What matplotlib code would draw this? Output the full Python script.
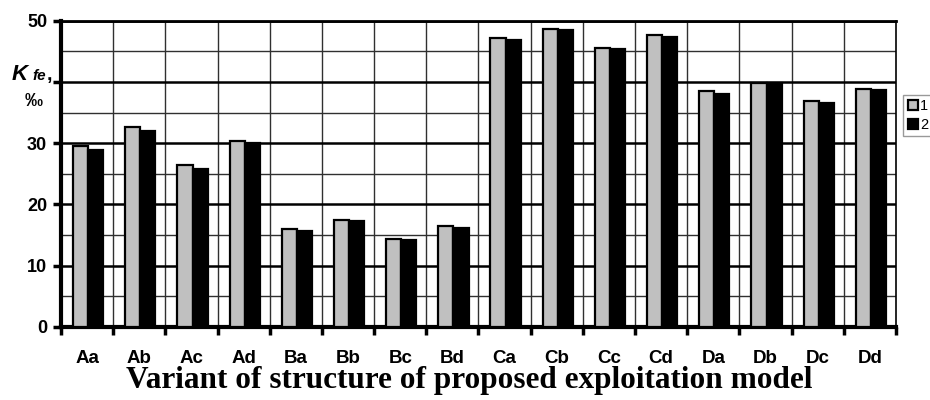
import numpy as np
import matplotlib.pyplot as plt
from matplotlib.ticker import MultipleLocator

# data
variants = ['Aa', 'Ab', 'Ac', 'Ad', 'Ba', 'Bb', 'Bc', 'Bd',
            'Ca', 'Cb', 'Cc', 'Cd', 'Da', 'Db', 'Dc', 'Dd']
series_1 = [29.5, 32.6, 26.5, 30.4, 15.9, 17.5, 14.4, 16.4,
            47.2, 48.7, 45.6, 47.6, 38.5, 39.9, 36.9, 38.9]
series_2 = [28.9, 32.0, 25.8, 30.0, 15.7, 17.3, 14.2, 16.1,
            46.9, 48.5, 45.4, 47.3, 38.1, 39.8, 36.6, 38.7]
series_names = ['1', '2']
y_ticks = [0, 10, 20, 30, 40, 50]
y_tick_labels = ['0', '10', '20', '30', '', '50']

plt.rcParams['font.family'] = ['Liberation Sans', 'DejaVu Sans']

fig = plt.figure(figsize=(9.3, 4.0), dpi=100)
ax = fig.add_axes([0.0656, 0.183, 0.8978, 0.765])

x = np.arange(len(variants))
w = 0.29
ax.bar(x - w / 2 + 0.02, series_1, w, color='#c0c0c0', edgecolor='black',
       linewidth=1.6, zorder=3, label=series_names[0])
ax.bar(x + w / 2 + 0.02, series_2, w, color='black', edgecolor='black',
       linewidth=1.6, zorder=3, label=series_names[1])

ax.set_xlim(-0.5, len(variants) - 0.5)
ax.set_ylim(0, 50)

# grid: thick lines at 10s, thin at 5s, verticals at category borders
ax.set_yticks(y_ticks)
ax.set_yticklabels(y_tick_labels, fontsize=13, fontweight='bold')
ax.yaxis.set_minor_locator(MultipleLocator(5))
ax.grid(axis='y', which='major', color='black', linewidth=1.8, zorder=1)
ax.grid(axis='y', which='minor', color='#303030', linewidth=1.0, zorder=1)
for b in np.arange(0.5, len(variants) - 0.5, 1.0):
    ax.axvline(b, color='#303030', linewidth=1.0, zorder=1)

ax.set_xticks(np.arange(-0.5, len(variants), 1.0))
ax.set_xticklabels([])
ax.set_xticks(x, minor=True)
ax.set_xticklabels(variants, minor=True, fontsize=13.5, fontweight='bold')
ax.tick_params(axis='x', which='major', direction='out', length=6, width=2.5)
ax.tick_params(axis='x', which='minor', length=0, pad=17)
ax.tick_params(axis='y', which='major', direction='out', length=6, width=2.5, pad=4)
ax.tick_params(axis='y', which='minor', length=0)

ax.spines['left'].set_linewidth(3)
ax.spines['bottom'].set_linewidth(3)
ax.spines['top'].set_linewidth(2)
ax.spines['right'].set_linewidth(1.2)

# y label sitting where the 40 tick label would be
fig.text(0.013, 0.800, 'K', fontsize=16, fontweight='bold', style='italic')
fig.text(0.035, 0.800, 'fe', fontsize=11, fontweight='bold', style='italic')
fig.text(0.050, 0.800, ',', fontsize=14, fontweight='bold')
fig.text(0.036, 0.745, '‰', fontsize=13, fontweight='bold', ha='center', va='center')

fig.text(0.505, 0.048, 'Variant of structure of proposed exploitation model',
         ha='center', va='center', fontsize=22.5, fontweight='bold',
         family=['Liberation Serif', 'DejaVu Serif'])

leg = ax.legend(loc='center left', bbox_to_anchor=(1.0, 0.69), fontsize=10.5,
                frameon=True, fancybox=False, edgecolor='#808080',
                handlelength=0.7, handleheight=0.7, handletextpad=0.15,
                borderpad=0.3, labelspacing=0.3, borderaxespad=0.5)
leg.get_frame().set_linewidth(1.0)

fig.savefig('out.png', dpi=100)
